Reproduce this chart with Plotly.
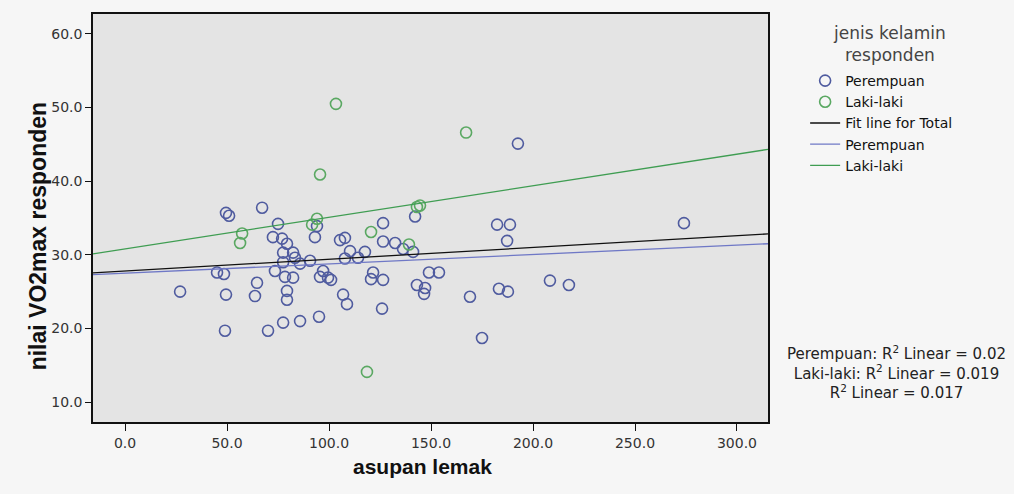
import plotly.graph_objects as go

# ---- data ----
perempuan_x = [27.0, 45.1, 48.5, 49.5, 51.0, 49.5, 49.0, 67.2, 64.7, 63.7, 70.1, 75.0, 72.5, 77.0,
               79.4, 77.5, 82.4, 83.3, 77.5, 90.7, 85.8, 73.5, 78.4, 82.4, 97.1, 95.6, 101.0, 79.4,
               79.4, 77.5, 85.8, 95.1, 94.1, 93.1, 126.5, 105.4, 107.8, 126.5, 132.4, 136.3, 141.2,
               110.3, 117.6, 107.8, 114.2, 121.6, 120.6, 126.5, 106.9, 108.8, 126.0, 142.2, 182.4,
               188.7, 187.3, 149.0, 153.9, 143.1, 147.1, 146.6, 169.1, 183.3, 187.7, 175.0, 192.6,
               208.3, 217.6, 274.0, 99.5]
perempuan_y = [25.0, 27.6, 27.4, 35.7, 35.3, 24.6, 19.7, 36.4, 26.2, 24.4, 19.7, 34.2, 32.4, 32.2,
               31.5, 30.3, 30.3, 29.6, 29.0, 29.2, 28.8, 27.8, 27.0, 26.9, 27.8, 27.0, 26.6, 25.1,
               23.9, 20.8, 21.0, 21.6, 33.9, 32.4, 34.3, 32.0, 32.3, 31.8, 31.6, 30.8, 30.4,
               30.5, 30.4, 29.5, 29.6, 27.6, 26.7, 26.6, 24.6, 23.3, 22.7, 35.2, 34.1,
               34.1, 31.9, 27.6, 27.6, 25.9, 25.5, 24.7, 24.3, 25.4, 25.0, 18.7, 45.1,
               26.5, 25.9, 34.3, 26.9]

laki_x = [103.4, 167.2, 95.6, 57.4, 56.4, 94.1, 91.7, 144.6, 143.1, 120.6, 139.2, 118.6]
laki_y = [50.5, 46.6, 40.9, 32.9, 31.6, 34.9, 34.1, 36.7, 36.5, 33.1, 31.4, 14.1]

# fit lines (intercept, slope)
fit_names = ["Fit line for Total", "Perempuan", "Laki-laki"]
fit_intercept = [27.8, 27.5, 30.8]
fit_slope = [0.0160, 0.0127, 0.0429]
fit_colors = ["#111111", "#6f78c6", "#3f9d52"]

x_range = [-15.7, 315.2]
y_range = [7.3, 62.7]
x_ticks = [0, 50, 100, 150, 200, 250, 300]
y_ticks = [10, 20, 30, 40, 50, 60]

legend_title = "jenis kelamin<br>responden"
r2_text = ("Perempuan: R<sup>2</sup> Linear = 0.02<br>"
           "Laki-laki: R<sup>2</sup> Linear = 0.019<br>"
           "R<sup>2</sup> Linear = 0.017")

fig = go.Figure()
fig.add_trace(go.Scatter(x=perempuan_x, y=perempuan_y, mode="markers", name="Perempuan",
                         marker=dict(symbol="circle-open", size=11, color="#4f5b9f",
                                     line=dict(width=1.6, color="#4f5b9f"))))
fig.add_trace(go.Scatter(x=laki_x, y=laki_y, mode="markers", name="Laki-laki",
                         marker=dict(symbol="circle-open", size=11, color="#5aa862",
                                     line=dict(width=1.6, color="#5aa862"))))
for name, b0, b1, c in zip(fit_names, fit_intercept, fit_slope, fit_colors):
    xs = list(x_range)
    ys = [b0 + b1 * v for v in xs]
    fig.add_trace(go.Scatter(x=xs, y=ys, mode="lines", name=name,
                             line=dict(color=c, width=1.3)))

wide = "DejaVu Sans, Verdana, sans-serif"
bold = "Liberation Sans, Arial, sans-serif"
fig.update_layout(
    width=1014, height=494,
    margin=dict(l=93, r=246, t=14, b=72),
    paper_bgcolor="#f6f6f6",
    plot_bgcolor="#e4e4e4",
    font=dict(family=wide, size=15, color="#222"),
    showlegend=True,
    legend=dict(
        x=1.055, y=0.875, xanchor="left", yanchor="top",
        bgcolor="rgba(0,0,0,0)",
        font=dict(family=wide, size=14, color="#111"),
        tracegroupgap=0, itemwidth=30,
    ),
    annotations=[
        dict(xref="paper", yref="paper", x=1.18, y=1.0 - (44 - 14) / 408,
             xanchor="center", yanchor="middle", showarrow=False, align="center",
             text=legend_title, font=dict(family=wide, size=17, color="#444")),
        dict(xref="paper", yref="paper", x=1.19, y=0.122, xanchor="center", yanchor="middle",
             showarrow=False, align="center", text=r2_text,
             font=dict(family=wide, size=15, color="#222")),
        dict(xref="paper", yref="paper", x=-0.081, y=1.0 - (236 - 14) / 408,
             xanchor="center", yanchor="middle", showarrow=False, textangle=-90,
             text="<b>nilai VO2max responden</b>",
             font=dict(family=bold, size=23, color="#111")),
        dict(xref="paper", yref="paper", x=(422 - 93) / 675, y=1.0 - (466 - 14) / 408,
             xanchor="center", yanchor="middle", showarrow=False,
             text="<b>asupan lemak</b>",
             font=dict(family=bold, size=21, color="#111")),
    ],
)
fig.update_xaxes(range=x_range, tickvals=x_ticks, ticktext=[f"{v:.1f}" for v in x_ticks],
                 showgrid=False, zeroline=False, showline=True, linecolor="#111", linewidth=1.5,
                 mirror=True, ticks="outside", ticklen=7, tickcolor="#111",
                 tickfont=dict(family=wide, size=14, color="#333"))
fig.update_yaxes(range=y_range, tickvals=y_ticks, ticktext=[f"{v:.1f}" for v in y_ticks],
                 showgrid=False, zeroline=False, showline=True, linecolor="#111", linewidth=1.5,
                 mirror=True, ticks="outside", ticklen=6, tickcolor="#111",
                 tickfont=dict(family=wide, size=14, color="#333"))

fig.write_html("out.html")
